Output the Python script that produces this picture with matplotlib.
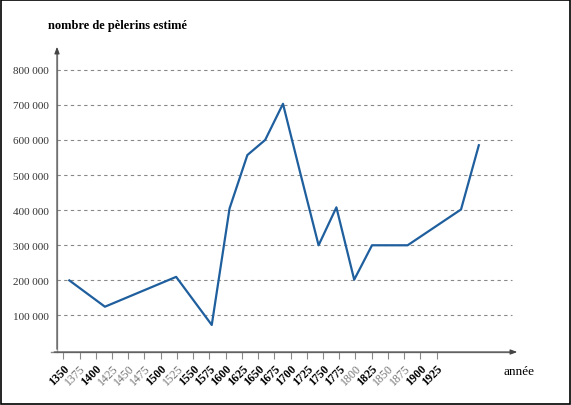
import matplotlib
matplotlib.use("Agg")
import matplotlib.pyplot as plt
from matplotlib.patches import Rectangle

# données
annees = [1350, 1400, 1500, 1550, 1575, 1600, 1625, 1650, 1675, 1700,
          1725, 1750, 1775, 1825, 1900, 1925]
pelerins = [200000, 125000, 210000, 73000, 405000, 557000, 600000, 703000, 500000, 300000,
            408000, 202000, 300000, 300000, 402000, 585000]

tick_years = list(range(1350, 1926, 25))
light_years = [1375, 1425, 1450, 1475, 1525, 1800, 1850, 1875]
y_ticks = [100000, 200000, 300000, 400000, 500000, 600000, 700000, 800000]
y_labels = ["100 000", "200 000", "300 000", "400 000", "500 000", "600 000", "700 000", "800 000"]

plt.rcParams['font.family'] = ['Liberation Serif', 'DejaVu Serif']

fig = plt.figure(figsize=(5.71, 4.06), dpi=100)
ax = fig.add_axes([57/571, 53/406, 463/571, 308/406])
ax.set_xlim(1332.7, 1982.8)
ax.set_ylim(-4000, 873300)

for s in ['top', 'right', 'left', 'bottom']:
    ax.spines[s].set_visible(False)

# axes avec flèches
ax.annotate("", xy=(1, 0), xycoords='axes fraction', xytext=(-0.012, 0),
            arrowprops=dict(arrowstyle='-|>,head_length=0.4,head_width=0.15', color='#444444', lw=0.8))
ax.annotate("", xy=(0, 1), xycoords='axes fraction', xytext=(0, 0),
            arrowprops=dict(arrowstyle='-|>,head_length=0.4,head_width=0.15', color='#444444', lw=0.8))
ax.plot([0, 0], [0, 0.98], transform=ax.transAxes, color='#aaaaaa', lw=1.0, clip_on=False)
ax.plot([-0.012, 0.985], [0, 0], transform=ax.transAxes, color='#888888', lw=1.0, clip_on=False)

for v in y_ticks:
    ax.axhline(v, xmin=0.0, xmax=455/463, color='#888888', lw=0.8, ls=(0, (3, 3)))

ax.plot(annees, pelerins, color='#1f5f9e', lw=1.6, zorder=3)

ax.set_yticks(y_ticks)
ax.set_yticklabels(y_labels, fontsize=8, color='#333333')
ax.tick_params(axis='y', length=0, pad=6)

# dans l'original, l'échelle des graduations ne suit pas exactement celle de la courbe
tick_pos = [1350 - 8.42 + (y - 1350) * 0.9115 for y in tick_years]
ax.set_xticks(tick_pos)
ax.set_xticklabels([str(y) for y in tick_years], rotation=45, ha='right', va='top',
                   rotation_mode='anchor', fontsize=8.5)
for lab, y in zip(ax.get_xticklabels(), tick_years):
    if y in light_years:
        lab.set_color('#777777')
    else:
        lab.set_color('black')
        lab.set_fontweight('bold')
ax.tick_params(axis='x', length=5, color='#888888', width=0.8, pad=2)

fig.text(48/571, 1 - 26/406, "nombre de pèlerins estimé", fontsize=9, fontweight='bold',
         va='center', ha='left')
fig.text(504/571, 1 - 372/406, "année", fontsize=9.5, va='center', ha='left')

fig.patches.append(Rectangle((0.002, 0.003), 0.996, 0.994, transform=fig.transFigure,
                             fill=False, edgecolor='black', lw=1.2))

fig.savefig("out.png", dpi=100)
